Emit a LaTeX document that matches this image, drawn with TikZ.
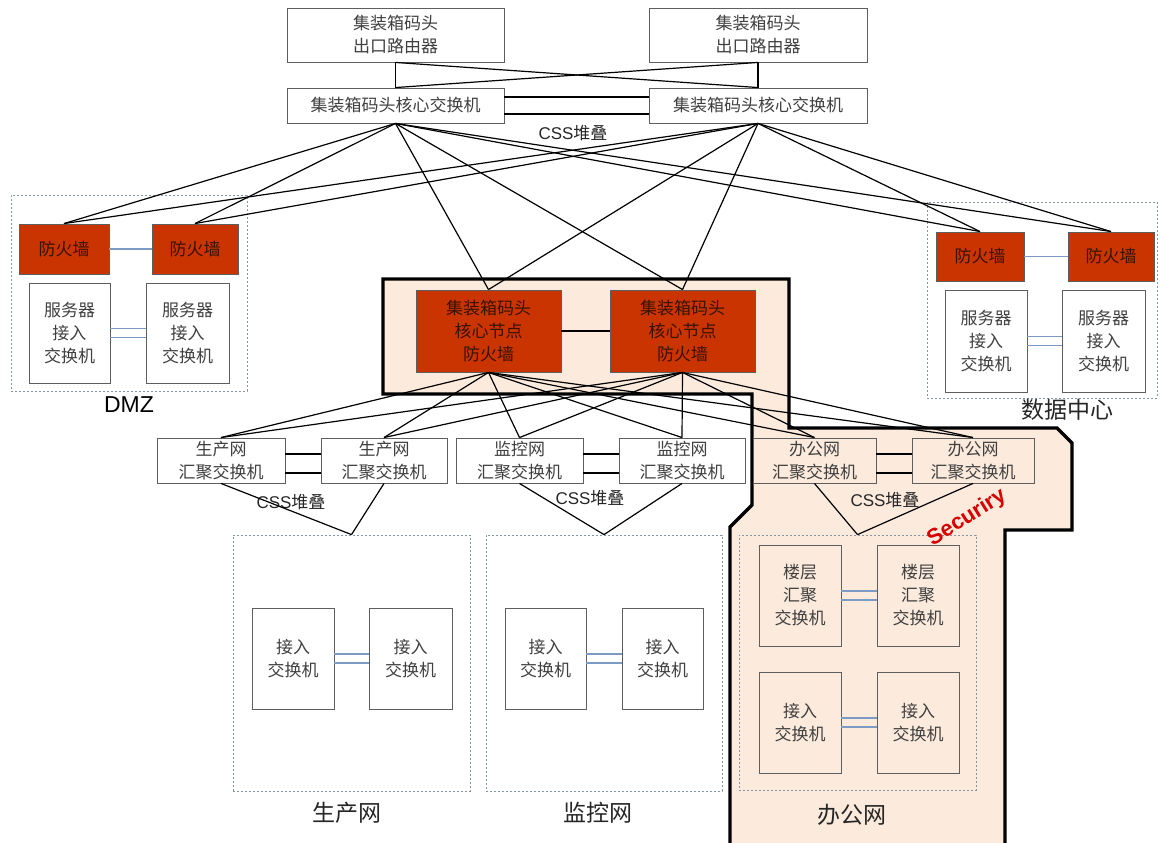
\documentclass[tikz,border=0pt]{standalone}
\usepackage{fontspec}
\setmainfont{Liberation Sans}
\newfontfamily\cjk{Noto Sans CJK SC}
\usepackage{tikz}
\usetikzlibrary{calc}
\definecolor{fwred}{HTML}{C93400}
\definecolor{fwtext}{HTML}{3A1200}
\definecolor{peach}{HTML}{FCEADC}
\definecolor{boxline}{HTML}{5E5E5E}
\definecolor{txtgray}{HTML}{404040}
\definecolor{zoneline}{HTML}{8793A6}
\definecolor{bondblue}{HTML}{7C9AC4}

\begin{document}
\begin{tikzpicture}[x=1pt,y=-1pt,
  dev/.style={draw=boxline,line width=0.9pt,fill=white,text=txtgray,align=center,inner sep=0pt,
    font=\cjk\fontsize{17}{23}\selectfont},
  fwall/.style={dev,fill=fwred,text=fwtext},
  zone/.style={draw=zoneline,line width=0.8pt,dash pattern=on 2pt off 2pt,inner sep=0pt},
  link/.style={draw=black,line width=1.2pt},
  bond/.style={draw=bondblue,line width=1.1pt},
  zonelab/.style={font=\cjk\fontsize{23}{26}\selectfont,text=black!85},
  css/.style={font=\fontsize{17}{20}\selectfont,text=black!85}]
  \useasboundingbox (0,0) rectangle (1160,843);

  \fill[peach] (383,279) -- (789,279) -- (789,428) -- (1057,428) -- (1072,443) -- (1072,530)
    -- (1005,530) -- (1005,848) -- (730,848) -- (730,527) -- (752,505) -- (752,394) -- (383,394) -- cycle;
  \draw[line width=3.2pt,line join=miter] (383,279) -- (789,279) -- (789,428) -- (1057,428) -- (1072,443) -- (1072,530)
    -- (1005,530) -- (1005,848) -- (730,848) -- (730,527) -- (752,505) -- (752,394) -- (383,394) -- cycle;

  \node[zone,minimum width=236,minimum height=196] (zdmz) at (129,293) {};
  \node[zone,minimum width=230,minimum height=196] (zdc) at (1042,300) {};
  \node[zone,minimum width=237,minimum height=256] (zprod) at (351.5,663) {};
  \node[zone,minimum width=236,minimum height=256] (zmon) at (604,663) {};
  \node[zone,minimum width=237,minimum height=255] (zoff) at (857.5,662.5) {};

  \node[dev,minimum width=217,minimum height=54] (r1) at (395.5,35) {集装箱码头\\出口路由器};
  \node[dev,minimum width=218,minimum height=54] (r2) at (758,35) {集装箱码头\\出口路由器};
  \node[dev,minimum width=217,minimum height=35] (cs1) at (395.5,105.5) {集装箱码头核心交换机};
  \node[dev,minimum width=218,minimum height=35] (cs2) at (758,105.5) {集装箱码头核心交换机};
  \node[css] at (573,133) {CSS{\cjk 堆叠}};

  \node[fwall,minimum width=90,minimum height=50] (dmzfw1) at (64,249) {防火墙};
  \node[fwall,minimum width=86,minimum height=50] (dmzfw2) at (195,249) {防火墙};
  \node[dev,minimum width=81,minimum height=100] (dmzsw1) at (69.5,333) {服务器\\接入\\交换机};
  \node[dev,minimum width=83,minimum height=100] (dmzsw2) at (187.5,333) {服务器\\接入\\交换机};
  \node[font=\fontsize{23}{26}\selectfont] at (129,405) {DMZ};

  \node[fwall,minimum width=88,minimum height=49] (dcfw1) at (980,256.5) {防火墙};
  \node[fwall,minimum width=86,minimum height=49] (dcfw2) at (1111,256.5) {防火墙};
  \node[dev,minimum width=82,minimum height=102] (dcsw1) at (986,341) {服务器\\接入\\交换机};
  \node[dev,minimum width=83,minimum height=102] (dcsw2) at (1103.5,341) {服务器\\接入\\交换机};
  \node[zonelab] at (1067,410) {数据中心};

  \node[fwall,minimum width=145,minimum height=82] (corefw1) at (488.5,331) {集装箱码头\\核心节点\\防火墙};
  \node[fwall,minimum width=145,minimum height=82] (corefw2) at (682.5,331) {集装箱码头\\核心节点\\防火墙};

  \node[dev,minimum width=128,minimum height=45] (prodagg1) at (221,460.5) {生产网\\汇聚交换机};
  \node[dev,minimum width=126,minimum height=45] (prodagg2) at (384,460.5) {生产网\\汇聚交换机};
  \node[dev,minimum width=127,minimum height=45] (monagg1) at (519.5,460.5) {监控网\\汇聚交换机};
  \node[dev,minimum width=126,minimum height=45] (monagg2) at (682,460.5) {监控网\\汇聚交换机};
  \node[dev,fill=none,minimum width=123,minimum height=45] (offagg1) at (814.5,460.5) {办公网\\汇聚交换机};
  \node[dev,fill=none,minimum width=122,minimum height=45] (offagg2) at (973,460.5) {办公网\\汇聚交换机};
  \node[css] at (291,502) {CSS{\cjk 堆叠}};
  \node[css] at (590,498) {CSS{\cjk 堆叠}};
  \node[css] at (885,500) {CSS{\cjk 堆叠}};

  \node[dev,minimum width=82,minimum height=101] (prodacc1) at (293,658.5) {接入\\交换机};
  \node[dev,minimum width=83,minimum height=101] (prodacc2) at (410.5,658.5) {接入\\交换机};
  \node[dev,minimum width=81,minimum height=101] (monacc1) at (545.5,658.5) {接入\\交换机};
  \node[dev,minimum width=81,minimum height=101] (monacc2) at (662.5,658.5) {接入\\交换机};
  \node[dev,fill=none,minimum width=82,minimum height=101] (floor1) at (800,595.5) {楼层\\汇聚\\交换机};
  \node[dev,fill=none,minimum width=82,minimum height=101] (floor2) at (918,595.5) {楼层\\汇聚\\交换机};
  \node[dev,fill=none,minimum width=82,minimum height=101] (offacc1) at (800,722.5) {接入\\交换机};
  \node[dev,fill=none,minimum width=82,minimum height=101] (offacc2) at (918,722.5) {接入\\交换机};
  \node[zonelab] at (347,813) {生产网};
  \node[zonelab] at (598,813) {监控网};
  \node[zonelab] at (852,815) {办公网};

  \node[rotate=32,text=red!85!black,font=\bfseries\fontsize{22}{22}\selectfont] (sec) at (967,518) {Securiry};

  \foreach \s in {r1,r2}
    \foreach \t in {cs1,cs2}
      \draw[link] (\s.south) -- (\t.north);
  \foreach \d in {-8.5,8.5}
    \draw[link] ($(cs1.east)+(0,\d)$) -- ($(cs2.west)+(0,\d)$);
  \foreach \s in {cs1,cs2}
    \foreach \t in {dmzfw1,dmzfw2,corefw1,corefw2,dcfw1,dcfw2}
      \draw[link] (\s.south) -- (\t.north);
  \foreach \s in {corefw1,corefw2}
    \foreach \t in {prodagg1,prodagg2,monagg1,monagg2,offagg1,offagg2}
      \draw[link] (\s.south) -- (\t.north);
  \draw[link] (corefw1) -- (corefw2);
  \draw[bond,line width=1.8pt] (dmzfw1) -- (dmzfw2);
  \draw[bond,line width=1.8pt] (dcfw1) -- (dcfw2);

  \foreach \a/\b in {prodagg1/prodagg2,monagg1/monagg2,offagg1/offagg2} {
    \draw[link] ($(\a.east)+(0,-6.5)$) -- ($(\b.west)+(0,-6.5)$);
    \draw[link] ($(\a.east)+(0,12.5)$) -- ($(\b.west)+(0,12.5)$);
  }
  \foreach \a/\b/\z in {prodagg1/prodagg2/zprod,monagg1/monagg2/zmon,offagg1/offagg2/zoff} {
    \draw[link] (\a.south) -- (\z.north);
    \draw[link] (\b.south) -- (\z.north);
  }
  \foreach \a/\b in {dmzsw1/dmzsw2,dcsw1/dcsw2,prodacc1/prodacc2,monacc1/monacc2,floor1/floor2,offacc1/offacc2} {
    \draw[bond] ($(\a.east)+(0,-4.5)$) -- ($(\b.west)+(0,-4.5)$);
    \draw[bond] ($(\a.east)+(0,4.5)$) -- ($(\b.west)+(0,4.5)$);
  }
\end{tikzpicture}
\end{document}
